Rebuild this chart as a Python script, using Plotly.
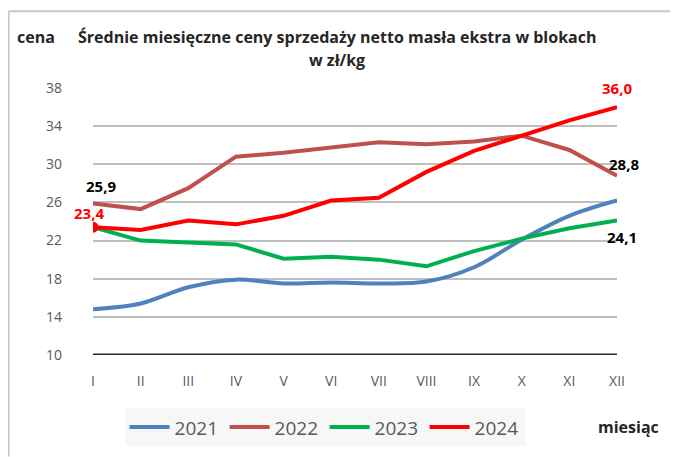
import plotly.graph_objects as go

months = ['I', 'II', 'III', 'IV', 'V', 'VI', 'VII', 'VIII', 'IX', 'X', 'XI', 'XII']
y2021 = [14.8, 15.4, 17.1, 17.9, 17.5, 17.6, 17.5, 17.7, 19.2, 22.1, 24.6, 26.2]
y2022 = [25.9, 25.3, 27.5, 30.8, 31.2, 31.7, 32.3, 32.1, 32.4, 33.0, 31.5, 28.8]
y2023 = [23.4, 22.0, 21.8, 21.6, 20.1, 20.3, 20.0, 19.3, 20.9, 22.2, 23.3, 24.1]
y2024 = [23.4, 23.1, 24.1, 23.7, 24.6, 26.2, 26.5, 29.2, 31.4, 33.0, 34.6, 36.0]
y_ticks = [10, 14, 18, 22, 26, 30, 34, 38]

FONT = 'Open Sans'

fig = go.Figure()
series = [
    ('2021', y2021, '#4f81bd', 'spline'),
    ('2022', y2022, '#c0504d', 'linear'),
    ('2023', y2023, '#00b050', 'linear'),
    ('2024', y2024, '#ff0000', 'linear'),
]
for name, vals, color, shape in series:
    fig.add_trace(go.Scatter(x=months, y=vals, name=name, mode='lines',
                             line=dict(color=color, width=4, shape=shape)))

# red marker on the first 2024 point
fig.add_trace(go.Scatter(x=[months[0]], y=[y2024[0]], mode='markers',
                         marker=dict(color='#ff0000', size=11), showlegend=False))

# data labels
labels = [
    (months[0], y2022[0], '25,9', 'black', 17, 8),
    (months[0], y2024[0], '23,4', '#ff0000', 14, -4),
    (months[-1], y2024[-1], '36,0', '#ff0000', 19, 0),
    (months[-1], y2022[-1], '28,8', 'black', 12, 7),
    (months[-1], y2023[-1], '24,1', 'black', -16, 5),
]
for x, y, txt, col, dy, dx in labels:
    fig.add_annotation(x=x, y=y, text=txt, showarrow=False, yshift=dy, xshift=dx,
                       font=dict(family=FONT, size=15, color=col, weight='bold'))

# title, axis captions
title_font = dict(family=FONT, size=16, color='#262626', weight='bold')
fig.add_annotation(xref='paper', yref='paper', x=0.466, y=1.19, xanchor='center', yanchor='middle',
                   text='Średnie miesięczne ceny sprzedaży netto masła ekstra w blokach',
                   showarrow=False, font=title_font)
fig.add_annotation(xref='paper', yref='paper', x=0.466, y=1.104, xanchor='center', yanchor='middle',
                   text='w zł/kg', showarrow=False, font=title_font)
fig.add_annotation(xref='paper', yref='paper', x=-0.149, y=1.19, xanchor='left', yanchor='middle',
                   text='cena', showarrow=False, font=title_font)
fig.add_annotation(xref='paper', yref='paper', x=0.96, y=-0.27, xanchor='left', yanchor='middle',
                   text='miesiąc', showarrow=False, font=title_font)

# outer frame (top and left edges)
fig.add_shape(type='line', xref='paper', yref='paper', x0=-0.161, x1=1.12, y0=1.287, y1=1.287,
              line=dict(color='#c8c8c8', width=2))
fig.add_shape(type='line', xref='paper', yref='paper', x0=-0.161, x1=-0.161, y0=1.287, y1=-0.38,
              line=dict(color='#c8c8c8', width=2))

fig.update_layout(
    width=670, height=449, autosize=False,
    margin=dict(l=85, r=61, t=80, b=101),
    paper_bgcolor='white', plot_bgcolor='white',
    font=dict(family=FONT, color='#595959'),
    showlegend=True,
    legend=dict(orientation='h', x=0.442, xanchor='center', y=-0.195, yanchor='top',
                bgcolor='#f7f7f7', font=dict(size=19, color='#595959'),
                entrywidth=45, itemwidth=40),
    xaxis=dict(range=[0, 11], showgrid=False, zeroline=False, showline=False,
               tickfont=dict(size=14), ticks='', ticklabelstandoff=16),
    yaxis=dict(range=[10, 38], tickvals=y_ticks, showgrid=True, gridcolor='#bfbfbf', gridwidth=1.5,
               zeroline=False, showline=False, tickfont=dict(size=14), ticks='',
               ticklabelstandoff=30),
)
fig.add_shape(type='line', xref='paper', yref='y', x0=0, x1=1, y0=10, y1=10,
              line=dict(color='#262626', width=3), layer='below')

fig.write_html('out.html')
